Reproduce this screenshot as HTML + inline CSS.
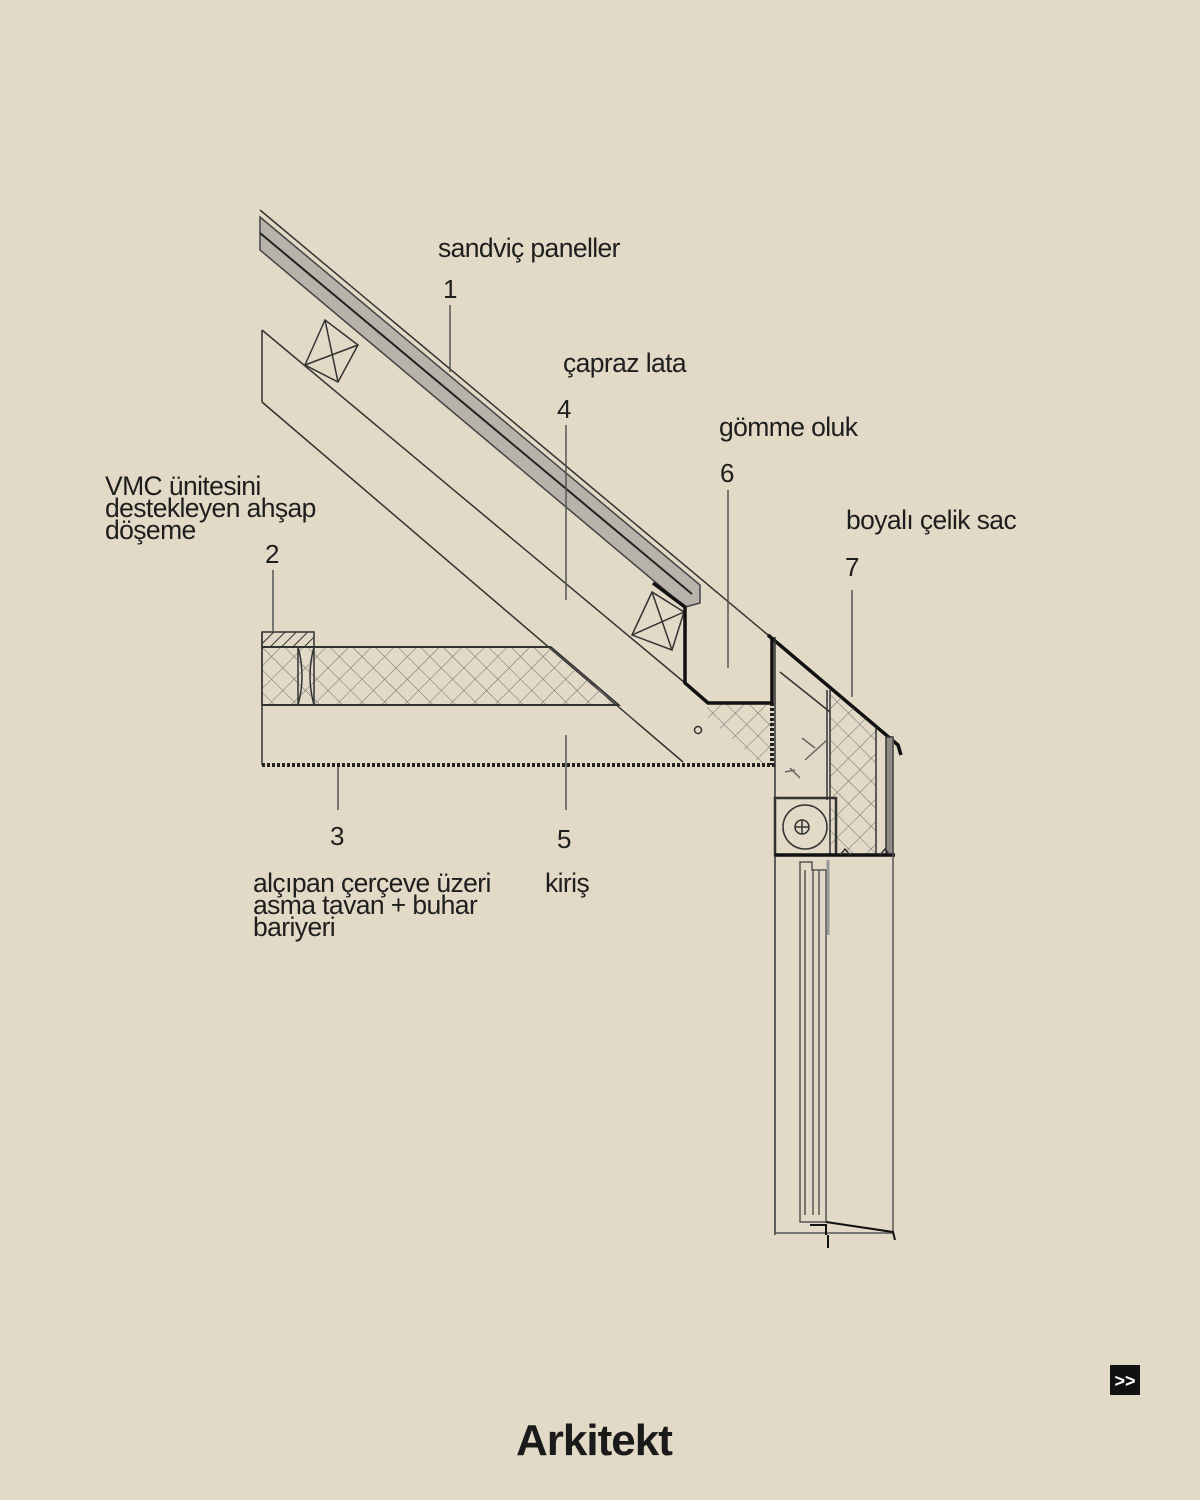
<!DOCTYPE html>
<html><head><meta charset="utf-8"><style>
html,body{margin:0;padding:0}
body{width:1200px;height:1500px;background:#e2d9c6;position:relative;overflow:hidden;font-family:"Liberation Sans",sans-serif;color:#1e1e1e}
.t{position:absolute;font-size:26.5px;line-height:22px;letter-spacing:-0.6px}
.n{position:absolute;font-size:26px}
</style></head><body>
<svg width="1200" height="1500" style="position:absolute;left:0;top:0">
<defs>
<pattern id="x" width="16" height="16" patternUnits="userSpaceOnUse" patternTransform="rotate(45)">
<path d="M0 0H16M0 0V16" stroke="#6f6f6f" stroke-width="1"/></pattern>
<pattern id="h" width="8" height="8" patternUnits="userSpaceOnUse" patternTransform="rotate(45)">
<path d="M0 0V8" stroke="#333" stroke-width="2"/></pattern>
</defs>
<g fill="none" stroke="#333" stroke-width="1.5">
<line x1="260" y1="210" x2="768" y2="635"/>
<polygon points="260,217 700,585 700,603 685,607 260,250" fill="#b7b3aa" stroke="#444"/>
<line x1="260" y1="233" x2="692" y2="594" stroke="#222" stroke-width="2"/>
<line x1="262" y1="330" x2="262" y2="402"/>
<line x1="262" y1="330" x2="685" y2="683"/>
<line x1="262" y1="402" x2="683" y2="762"/>
<polygon points="305,365 325,320 358,345 338,382"/>
<path d="M305,365 L358,345 M325,320 L338,382"/>
<polygon points="632,635 652,592 684,612 672,650"/>
<path d="M632,635 L684,612 M652,592 L672,650"/>
<rect x="262" y="632" width="52" height="15" fill="url(#h)"/>
<polygon points="262,647 551,647 619,705 262,705" fill="url(#x)"/>
<line x1="262" y1="647" x2="551" y2="647" stroke-width="2"/>
<line x1="262" y1="705" x2="619" y2="705" stroke-width="2"/>
<line x1="262" y1="632" x2="262" y2="765"/>
<path d="M298,647 Q306,676 298,705 M314,647 Q306,676 314,705 M298,647V705 M314,647V705"/>
<line x1="262" y1="765" x2="775" y2="765" stroke="#222" stroke-width="4" stroke-dasharray="3 2"/>
<polygon points="708,703 772,703 772,763 760,763 705,715" fill="url(#x)" stroke="none"/>
<line x1="772" y1="703" x2="772" y2="765" stroke="#222" stroke-width="4" stroke-dasharray="3 2"/>
<circle cx="698" cy="730" r="3.5"/>
<polyline points="653,583 685,607 685,683 708,703 772,703 772,637" stroke="#111" stroke-width="3.5"/>
<polyline points="768,635 898,745 901,755" stroke="#111" stroke-width="3.5"/>
<line x1="775" y1="637" x2="775" y2="1235"/>
<polygon points="830,688 868,720 876,727 876,855 830,855" fill="url(#x)" stroke="none"/>
<line x1="780" y1="672" x2="830" y2="712" fill="none"/>
<line x1="827" y1="690" x2="827" y2="800"/>
<line x1="830" y1="690" x2="830" y2="855"/>
<line x1="876" y1="727" x2="876" y2="855"/>
<rect x="886" y="737" width="7" height="118" fill="#8f8c86" stroke="#333"/>
<path d="M802,738 L815,748 M805,760 L827,740 M790,768 L800,778 M785,772 L795,770" stroke="#666"/>
<rect x="775" y="798" width="61" height="57" stroke-width="2.5"/>
<circle cx="805" cy="827" r="22"/>
<circle cx="802" cy="827" r="7"/>
<path d="M795,827H809M802,820V834"/>
<line x1="775" y1="855" x2="895" y2="855" stroke="#111" stroke-width="3.5"/>
<path d="M840,855 l5,-6 l5,6 M880,855 l5,-6 l5,6" stroke="#333"/>
<line x1="893" y1="737" x2="893" y2="1232" stroke="#555"/>
<line x1="775" y1="1233" x2="893" y2="1233" stroke="#555"/>
<path d="M800,862H812V870H826V1222H800Z" stroke="#555"/>
<path d="M805,870V1215M813,870V1215M819,870V1215" stroke="#555"/>
<line x1="828" y1="860" x2="828" y2="935" stroke="#999" stroke-width="3"/>
<path d="M826,1222 L893,1232 L895,1240 M810,1225H826V1235M828,1235V1248" stroke="#111" stroke-width="2"/>
<g stroke="#555" stroke-width="1.5">
<line x1="450" y1="305" x2="450" y2="372"/>
<line x1="566" y1="425" x2="566" y2="600"/>
<line x1="728" y1="490" x2="728" y2="668"/>
<line x1="852" y1="590" x2="852" y2="697"/>
<line x1="273" y1="570" x2="273" y2="632"/>
<line x1="338" y1="767" x2="338" y2="810"/>
<line x1="566" y1="735" x2="566" y2="810"/>
</g>
</g>
<rect x="1110" y="1365" width="30" height="30" fill="#111"/>
<text x="1125" y="1387" fill="#fff" font-family="Liberation Sans" font-weight="bold" font-size="18" text-anchor="middle">&gt;&gt;</text>
</svg>
<div class="t" style="left:438px;top:237px">sandviç paneller</div>
<div class="n" style="left:443px;top:274px">1</div>
<div class="t" style="left:563px;top:352px">çapraz lata</div>
<div class="n" style="left:557px;top:394px">4</div>
<div class="t" style="left:719px;top:416px">gömme oluk</div>
<div class="n" style="left:720px;top:458px">6</div>
<div class="t" style="left:846px;top:509px">boyalı çelik sac</div>
<div class="n" style="left:845px;top:552px">7</div>
<div class="t" style="left:105px;top:475px">VMC ünitesini<br>destekleyen ahşap<br>döşeme</div>
<div class="n" style="left:265px;top:539px">2</div>
<div class="n" style="left:330px;top:821px">3</div>
<div class="n" style="left:557px;top:824px">5</div>
<div class="t" style="left:253px;top:872px">alçıpan çerçeve üzeri<br>asma tavan + buhar<br>bariyeri</div>
<div class="t" style="left:545px;top:872px">kiriş</div>
<div style="position:absolute;left:516px;top:1416px;font-size:44px;font-weight:bold;letter-spacing:-1px;color:#1a1a1a">Arkitekt</div>
</body></html>
